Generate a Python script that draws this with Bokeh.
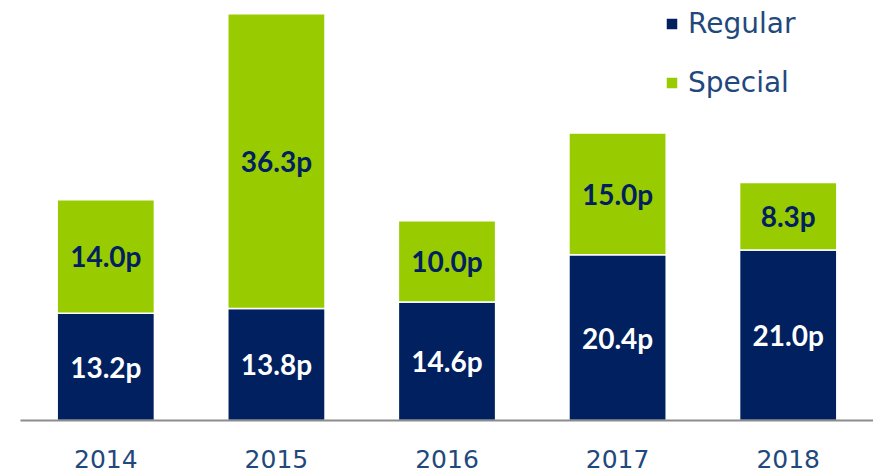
from bokeh.plotting import figure
from bokeh.models import FactorRange, ColumnDataSource, Legend, LegendItem, Range1d
from bokeh.core.properties import value
from bokeh.embed import file_html
from bokeh.resources import INLINE

years = ["2014", "2015", "2016", "2017", "2018"]
regular = [13.2, 13.8, 14.6, 20.4, 21.0]
special = [14.0, 36.3, 10.0, 15.0, 8.3]

NAVY = "#002060"
GREEN = "#99CC00"
TEXT = "#1F497D"

total = [r + s for r, s in zip(regular, special)]
src = ColumnDataSource(dict(
    x=years, reg=regular, spe=special, tot=total,
    reg_mid=[r / 2 for r in regular],
    spe_mid=[r + s / 2 for r, s in zip(regular, special)],
    reg_lab=[f"{v:.1f}p" for v in regular],
    spe_lab=[f"{v:.1f}p" for v in special],
))

p = figure(x_range=FactorRange(*years), y_range=Range1d(0, 50.74),
           width=873, height=474, output_backend="svg", toolbar_location=None,
           min_border_left=20, min_border_right=0, min_border_top=8, min_border_bottom=54)
p.outline_line_color = None
p.background_fill_color = "white"
p.border_fill_color = "white"
p.xgrid.visible = False
p.ygrid.visible = False
p.yaxis.visible = False

r1 = p.vbar(x="x", top="reg", bottom=0, width=0.57, source=src,
            fill_color=NAVY, line_color="white", line_width=1.5)
r2 = p.vbar(x="x", top="tot", bottom="reg", width=0.57, source=src,
            fill_color=GREEN, line_color="white", line_width=1.5)

p.text(x="x", y="reg_mid", text="reg_lab", source=src, text_align="center",
       text_baseline="middle", text_color="white", text_font=value("Lato"),
       text_font_style="bold", text_font_size="28px")
p.text(x="x", y="spe_mid", text="spe_lab", source=src, text_align="center",
       text_baseline="middle", text_color=NAVY, text_font=value("Lato"),
       text_font_style="bold", text_font_size="28px")

ax = p.xaxis[0]
ax.axis_line_color = "#8C8C8C"
ax.axis_line_width = 2
ax.major_tick_line_color = None
ax.minor_tick_line_color = None
ax.major_label_text_font = "DejaVu Sans"
ax.major_label_text_font_size = "25px"
ax.major_label_text_color = TEXT
ax.major_label_standoff = 23

legend = Legend(items=[LegendItem(label="Regular", renderers=[r1]),
                       LegendItem(label="Special", renderers=[r2])],
                location=(644, 321), padding=0, margin=0, spacing=26,
                glyph_width=15, glyph_height=15, label_standoff=9,
                label_text_font="DejaVu Sans", label_text_font_size="28px",
                label_text_color=TEXT, border_line_color=None,
                background_fill_alpha=0)
p.add_layout(legend, "center")

open("out.html", "w").write(file_html(p, INLINE))
